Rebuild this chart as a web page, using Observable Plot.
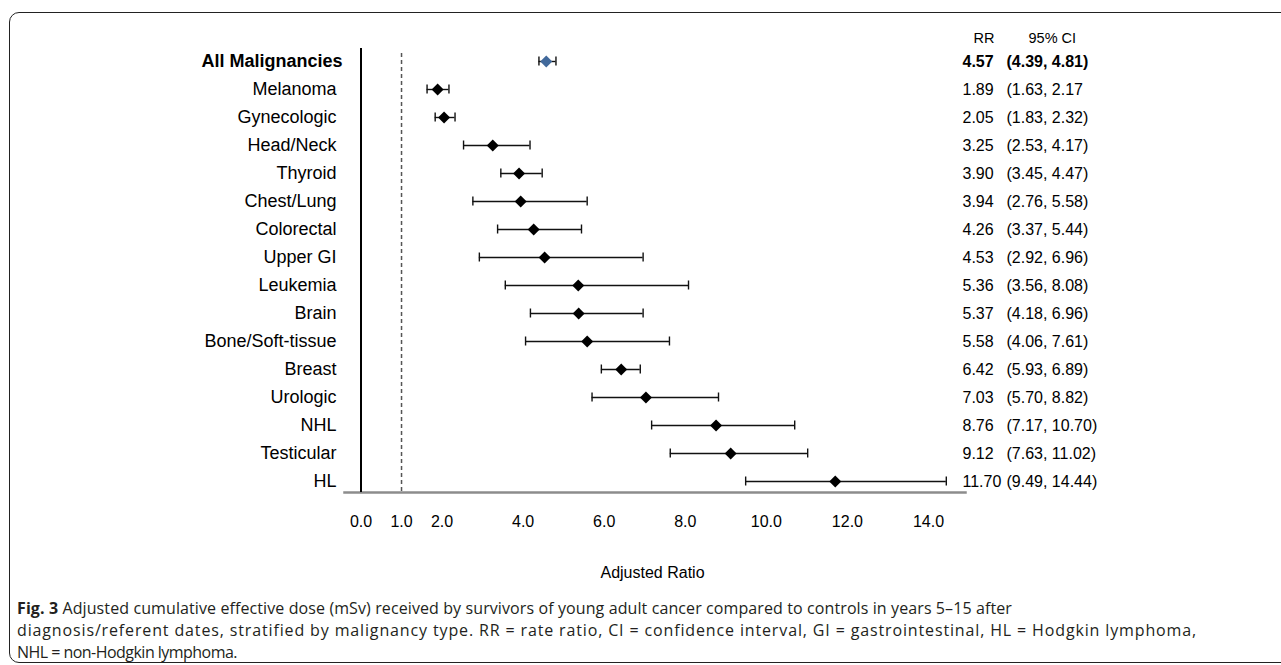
<!DOCTYPE html>
<html><head><meta charset="utf-8">
<script src="https://cdn.jsdelivr.net/npm/d3@7"></script>
<script src="https://cdn.jsdelivr.net/npm/@observablehq/plot@0.6"></script>
<style>
html,body{margin:0;padding:0;background:#fff;width:1281px;height:665px;overflow:hidden;}
#frame{position:absolute;left:9px;top:12px;width:1320px;height:651px;border:1.5px solid #222;border-radius:10px;box-sizing:border-box;}
#chart{position:absolute;left:0;top:0;}
#caption{position:absolute;left:17px;top:597px;font-family:"Open Sans","Noto Sans",sans-serif;font-size:16px;line-height:22px;color:#231f20;white-space:nowrap;}
#caption span{display:inline-block;}
</style></head><body>
<div id="frame"></div>
<div id="chart"></div>
<div id="caption"><span data-w="995"><b>Fig. 3</b> Adjusted cumulative effective dose (mSv) received by survivors of young adult cancer compared to controls in years 5–15 after</span><br><span data-w="1180">diagnosis/referent dates, stratified by malignancy type. RR = rate ratio, CI = confidence interval, GI = gastrointestinal, HL = Hodgkin lymphoma,</span><br><span data-w="220">NHL = non-Hodgkin lymphoma.</span></div>
<script>
const categories = ["All Malignancies","Melanoma","Gynecologic","Head/Neck","Thyroid","Chest/Lung","Colorectal","Upper GI","Leukemia","Brain","Bone/Soft-tissue","Breast","Urologic","NHL","Testicular","HL"];
const rr = [4.57,1.89,2.05,3.25,3.90,3.94,4.26,4.53,5.36,5.37,5.58,6.42,7.03,8.76,9.12,11.70];
const lo = [4.39,1.63,1.83,2.53,3.45,2.76,3.37,2.92,3.56,4.18,4.06,5.93,5.70,7.17,7.63,9.49];
const hi = [4.81,2.17,2.32,4.17,4.47,5.58,5.44,6.96,8.08,6.96,7.61,6.89,8.82,10.70,11.02,14.44];
const rrLabels = ["4.57","1.89","2.05","3.25","3.90","3.94","4.26","4.53","5.36","5.37","5.58","6.42","7.03","8.76","9.12","11.70"];
const ciLabels = ["(4.39, 4.81)","(1.63, 2.17","(1.83, 2.32)","(2.53, 4.17)","(3.45, 4.47)","(2.76, 5.58)","(3.37, 5.44)","(2.92, 6.96)","(3.56, 8.08)","(4.18, 6.96)","(4.06, 7.61)","(5.93, 6.89)","(5.70, 8.82)","(7.17, 10.70)","(7.63, 11.02)","(9.49, 14.44)"];
const xTicks = [0,1,2,4,6,8,10,12,14];
const headers = ["RR","95% CI"];
const axisTitle = "Adjusted Ratio";

const rows = categories.map((c,i)=>({cat:c, rr:rr[i], lo:lo[i], hi:hi[i], rrLabel:rrLabels[i], ci:ciLabels[i], overall:i===0}));
const overall = rows.filter(d=>d.overall);
const others = rows.filter(d=>!d.overall);
const ff = "'Liberation Sans', Arial, Helvetica, sans-serif";

const chart = Plot.plot({
  width: 1281, height: 590,
  marginTop: 48, marginBottom: 98, marginLeft: 344, marginRight: 316,
  style: {fontFamily: ff, fontSize: "16px", color: "#000", background: "transparent", overflow: "visible"},
  x: {domain: [0, 15], range: [360.5, 968.5]},
  y: {type: "band", domain: categories, range: [47, 495], padding: 0, axis: null},
  marks: [
    Plot.frame({anchor: "bottom", stroke: "#8c8c8c", strokeWidth: 2.5, strokeOpacity: 1}),
    Plot.ruleX([0], {stroke: "#000", strokeWidth: 2}),
    Plot.ruleX([1], {stroke: "#555", strokeWidth: 1.5, strokeDasharray: "4,3", insetTop: 5}),
    Plot.ruleY(rows, {y: "cat", x1: "lo", x2: "hi", stroke: "#111", strokeWidth: 1.4}),
    Plot.tickX(rows, {x: "lo", y: "cat", stroke: "#111", strokeWidth: 1.4, insetTop: 9.5, insetBottom: 9.5}),
    Plot.tickX(rows, {x: "hi", y: "cat", stroke: "#111", strokeWidth: 1.4, insetTop: 9.5, insetBottom: 9.5}),
    Plot.dot(others, {x: "rr", y: "cat", symbol: "diamond2", r: 5.4, fill: "#000", stroke: "none"}),
    Plot.dot(overall, {x: "rr", y: "cat", symbol: "diamond2", r: 5.4, fill: "#41699b", stroke: "none"}),
    Plot.text(overall, {y: "cat", text: "cat", frameAnchor: "left", textAnchor: "end", dx: -2, fontWeight: "bold", fontSize: 18, fill: "#000"}),
    Plot.text(others, {y: "cat", text: "cat", frameAnchor: "left", textAnchor: "end", dx: -8, fontSize: 18, fill: "#000"}),
    Plot.text(overall, {y: "cat", text: "rrLabel", frameAnchor: "right", textAnchor: "start", dx: -3, fontWeight: "bold", fontSize: 16, fill: "#000"}),
    Plot.text(others, {y: "cat", text: "rrLabel", frameAnchor: "right", textAnchor: "start", dx: -3, fontSize: 16, fill: "#000"}),
    Plot.text(overall, {y: "cat", text: "ci", frameAnchor: "right", textAnchor: "start", dx: 41, fontWeight: "bold", fontSize: 16, fill: "#000"}),
    Plot.text(others, {y: "cat", text: "ci", frameAnchor: "right", textAnchor: "start", dx: 41, fontSize: 16, fill: "#000"}),
    Plot.text([headers[0]], {text: d => d, frameAnchor: "top-right", textAnchor: "middle", dx: 18.5, dy: -16, fontSize: 14.5, fill: "#000"}),
    Plot.text([headers[1]], {text: d => d, frameAnchor: "top-right", textAnchor: "start", dx: 63, dy: -16, fontSize: 14.5, fill: "#000"}),
    Plot.axisX({ticks: xTicks, tickSize: 0, tickPadding: 23, tickFormat: d => d.toFixed(1), fontSize: 16, label: null, fill: "#000"}),
    Plot.text([axisTitle], {text: d => d, frameAnchor: "bottom", dx: -2.5, dy: 85, fontSize: 16, fill: "#000"})
  ]
});
document.getElementById("chart").appendChild(chart);

// fit each caption line to the reference line length
document.querySelectorAll("#caption span").forEach(s => {
  const target = +s.dataset.w;
  const n = s.textContent.length;
  const w = s.getBoundingClientRect().width;
  s.style.letterSpacing = ((target - w) / n) + "px";
});
</script>
</body></html>
